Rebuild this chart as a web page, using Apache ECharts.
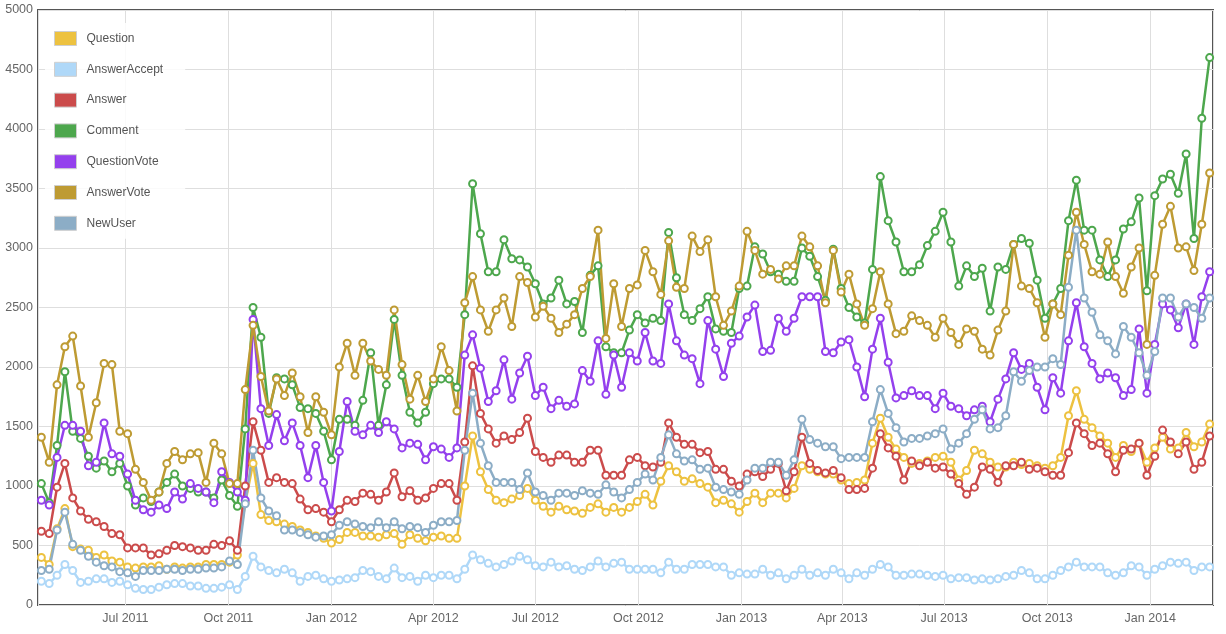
<!DOCTYPE html>
<html><head><meta charset="utf-8">
<script src="https://cdn.jsdelivr.net/npm/echarts@6/dist/echarts.min.js"></script>
<style>html,body{margin:0;padding:0;background:#fff}#c{width:1226px;height:634px}</style>
</head><body><div id="c"></div>
<script>
// weekly series, first week starting 2011-04-17, 150 weeks
const firstWeek = [2011, 3, 17];
const weekCount = 150;
const seriesNames = ["Question", "AnswerAccept", "Answer", "Comment", "QuestionVote", "AnswerVote", "NewUser"];
const seriesColors = ["#edc240", "#afd8f8", "#cb4b4b", "#4da74d", "#9440ed", "#be9b33", "#8cadc6"];
const monthNames = ["Jan","Feb","Mar","Apr","May","Jun","Jul","Aug","Sep","Oct","Nov","Dec"];

const question = [400,340,640,810,490,470,460,400,420,370,360,320,310,320,320,330,300,320,310,
 320,320,340,340,340,360,420,860,1190,760,710,700,680,660,630,610,580,560,
 520,
 550,610,610,580,580,570,590,600,510,590,560,540,570,580,560,560,1000,1420,
 1120,970,880,860,890,920,980,880,830,780,830,800,790,770,820,850,780,820,780,
 820,870,930,840,1040,1170,1120,1040,1060,1020,990,860,880,850,780,870,940,860,940,940,
 900,980,1170,1140,1120,1100,1100,1050,1020,1030,1050,1360,1570,1410,1310,1240,1190,1190,1210,
 1240,1250,1200,1050,1130,1300,1270,1200,1160,1160,1200,1180,1190,1170,1150,1170,1240,
 1590,1800,1560,1490,1420,1360,1240,1340,1290,1360,1200,1320,1410,1310,1320,1450,1330,1370,1520];

const answerAccept = [200,180,250,340,290,190,200,220,220,190,200,170,140,130,130,150,170,180,180,
 160,160,140,140,150,170,130,240,410,320,290,270,300,270,200,240,250,220,
 200,
 210,220,230,290,280,240,220,310,230,240,200,250,230,250,250,220,300,420,
 380,350,320,340,370,410,380,330,320,360,320,330,300,290,320,370,320,350,360,
 300,300,300,300,270,360,300,300,340,340,340,320,320,250,270,260,260,300,250,270,
 220,250,300,250,270,250,300,270,220,270,250,300,340,320,250,250,260,260,250,
 240,250,220,230,230,210,220,210,220,240,250,290,270,220,220,250,290,
 320,360,320,320,320,270,250,270,330,320,250,300,330,360,350,360,290,320,320];

const answer = [620,600,990,1190,900,790,720,700,660,600,590,480,480,480,420,430,460,500,490,
 480,460,460,510,500,540,460,1000,1540,1300,1030,1070,1030,1020,890,800,810,780,
 700,
 800,880,870,940,930,880,950,1110,910,960,880,900,980,1020,1020,880,1370,2010,
 1610,1480,1360,1420,1390,1450,1570,1290,1240,1200,1260,1260,1200,1200,1300,1300,1090,1090,1090,
 1220,1240,1170,1160,1200,1530,1410,1350,1350,1280,1290,1140,1140,1040,1000,1100,1120,1080,1140,1190,
 960,1120,1410,1190,1130,1110,1130,1070,970,970,980,1150,1440,1320,1250,1050,1210,1170,1200,
 1150,1160,1100,1020,930,990,1160,1140,1030,1170,1170,1200,1140,1150,1120,1090,1090,
 1280,1530,1440,1340,1360,1270,1120,1300,1310,1360,1090,1250,1470,1370,1270,1370,1140,1200,1420];

const comment = [1020,860,1340,1960,1460,1400,1250,1150,1210,1120,1190,1000,840,900,870,950,1030,1100,1000,
 980,950,950,900,1050,920,830,1480,2500,2250,1610,1910,1900,1850,1660,1650,1610,1460,
 1220,
 1560,1560,1510,1720,2120,1510,1850,2400,1930,1620,1530,1620,1860,1900,1900,1830,2440,3540,
 3120,2800,2800,3070,2910,2900,2840,2700,2530,2580,2730,2530,2550,2290,2770,2850,2170,2120,2120,
 2310,2440,2370,2410,2390,3130,2750,2440,2390,2490,2590,2320,2300,2290,2660,2680,3010,2950,2800,2780,
 2720,2720,3000,2930,2760,2560,2990,2660,2500,2420,2370,2820,3600,3230,3050,2800,2800,2860,3020,
 3140,3300,3050,2680,2850,2760,2830,2470,2840,2820,3030,3080,3040,2730,2410,2530,2660,
 3230,3570,3150,3150,2900,2760,2900,3160,3220,3420,2640,3440,3580,3620,3460,3790,3080,4090,4600];

const questionVote = [880,840,1240,1510,1510,1460,1170,1200,1530,1270,1250,1100,880,800,780,840,810,950,890,
 1020,980,950,860,1120,1030,950,880,2400,1650,1340,1600,1380,1530,1340,1070,1340,1030,
 790,
 1290,1710,1460,1430,1510,1450,1540,1480,1320,1360,1350,1220,1330,1310,1240,1320,2100,2270,
 1990,1710,1800,2060,1730,1950,2090,1760,1830,1650,1720,1670,1690,1970,1880,2220,1770,2100,1830,
 2120,2050,2290,2050,2030,2530,2220,2100,2070,1860,2390,2150,1920,2200,2260,2420,2520,2130,2140,2410,
 2300,2410,2590,2590,2590,2130,2120,2210,2230,2000,1750,2150,2410,2040,1740,1760,1800,1760,1760,
 1650,1780,1670,1650,1590,1640,1670,1540,1730,1900,2120,1980,2030,1830,1640,1910,1780,
 2220,2540,2170,2030,1900,1950,1910,1760,1810,2320,1780,2190,2530,2480,2330,2530,2190,2590,2800];

const answerVote = [1410,1200,1850,2170,2260,1840,1410,1700,2030,2020,1460,1440,1140,1030,880,950,1190,1290,1220,
 1270,1280,1030,1360,1270,1020,1020,1810,2350,1920,1630,1900,1760,1950,1750,1450,1750,1620,
 1430,
 2000,2200,1930,2200,2050,1980,1930,2480,2020,1730,1930,1710,1900,2170,1970,1630,2540,2760,
 2480,2300,2480,2580,2340,2760,2710,2420,2510,2410,2290,2360,2440,2660,2760,3150,2240,2700,2340,
 2660,2690,2980,2800,2610,3060,2670,2660,3100,2970,3070,2590,2350,2470,2680,3140,2980,2780,2820,2740,
 2850,2850,3100,3010,2850,2540,2980,2630,2780,2530,2350,2490,2800,2530,2280,2300,2430,2390,2350,
 2250,2410,2290,2190,2320,2300,2150,2100,2310,2470,3030,2680,2660,2540,2250,2530,2440,
 2940,3300,3030,2800,2780,3050,2760,2620,2840,3000,2190,2770,3200,3350,3000,3010,2810,3200,3630];

const newUser = [290,300,630,780,510,460,410,360,330,320,280,270,240,290,290,290,300,300,290,
 300,300,310,310,320,370,340,850,1300,900,790,750,630,630,610,590,570,580,
 590,
 670,700,680,660,650,700,650,700,640,660,650,610,670,700,700,710,1300,1780,
 1360,1170,1030,1030,1030,970,1110,950,920,880,940,940,920,960,940,930,1010,950,900,
 970,1030,1100,1050,1240,1430,1270,1210,1220,1140,1150,990,970,950,930,1050,1150,1150,1200,1200,
 1090,1220,1560,1390,1360,1330,1330,1230,1240,1240,1240,1540,1810,1610,1490,1370,1400,1400,1420,
 1440,1480,1310,1360,1440,1560,1640,1480,1490,1590,1960,1880,1970,2000,2000,2070,2020,
 2670,3150,2580,2460,2270,2220,2110,2340,2250,2120,1930,2130,2580,2580,2420,2530,2500,2410,2580];

const yTicks = {min: 0, max: 5000, interval: 500};
const xRange = {min: [2011, 3, 14], max: [2014, 1, 26]};

const allValues = [question, answerAccept, answer, comment, questionVote, answerVote, newUser];
const weeks = [];
for (let i = 0; i < weekCount; i++) {
  weeks.push(new Date(firstWeek[0], firstWeek[1], firstWeek[2] + 7 * i).getTime());
}

const chart = echarts.init(document.getElementById('c'), null, {renderer: 'canvas'});
const FONT = '"Liberation Sans", Arial, sans-serif';
chart.setOption({
  animation: false,
  backgroundColor: '#fff',
  color: seriesColors,
  grid: {left: 38, right: 13, top: 10, bottom: 29, show: true, borderColor: '#555', borderWidth: 2, backgroundColor: 'transparent'},
  legend: {
    orient: 'vertical', left: 45, top: 23,
    padding: [8, 22, 8, 9],
    backgroundColor: 'rgba(255,255,255,0.85)',
    itemWidth: 22, itemHeight: 14, itemGap: 15.8,
    icon: 'rect',
    itemStyle: {borderColor: '#cfcfcf', borderWidth: 1},
    textStyle: {fontFamily: FONT, fontSize: 12, color: '#545454', padding: [0, 0, 0, 5]},
    data: seriesNames
  },
  xAxis: {
    type: 'time',
    min: new Date(xRange.min[0], xRange.min[1], xRange.min[2]).getTime(),
    max: new Date(xRange.max[0], xRange.max[1], xRange.max[2]).getTime(),
    minInterval: 91 * 86400000,
    maxInterval: 91 * 86400000,
    splitNumber: 11,
    axisLine: {show: false},
    axisTick: {show: false},
    splitLine: {show: true, lineStyle: {color: '#dedede', width: 1}},
    axisLabel: {
      margin: 7, fontFamily: FONT, fontSize: 12.5, color: '#666', hideOverlap: false,
      formatter: function (v) { const d = new Date(v); return monthNames[d.getMonth()] + ' ' + d.getFullYear(); }
    }
  },
  yAxis: {
    type: 'value', min: yTicks.min, max: yTicks.max, interval: yTicks.interval,
    axisLine: {show: false}, axisTick: {show: false},
    splitLine: {show: true, lineStyle: {color: '#dedede', width: 1}},
    axisLabel: {margin: 5, fontFamily: FONT, fontSize: 12.5, color: '#666', formatter: function (v) { return String(v); }}
  },
  series: seriesNames.map(function (name, k) {
    return {
      name: name, type: 'line',
      data: weeks.map(function (t, i) { return [t, allValues[k][i]]; }),
      symbol: 'emptyCircle', symbolSize: 7, showSymbol: true,
      lineStyle: {width: 2.5, color: seriesColors[k]},
      itemStyle: {color: seriesColors[k], borderWidth: 2},
      emphasis: {disabled: true}
    };
  })
});
</script></body></html>
